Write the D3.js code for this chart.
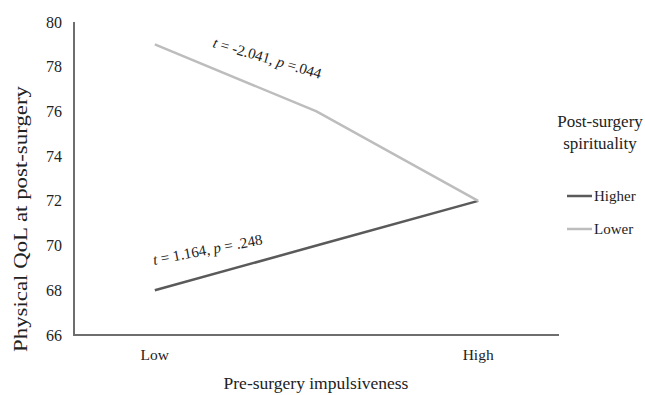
<!DOCTYPE html>
<html>
<head>
<meta charset="UTF-8">
<script src="https://cdn.jsdelivr.net/npm/d3@7/dist/d3.min.js"></script>
<style>
  body { margin: 0; background: #fff; }
  text { font-family: "Liberation Serif", "Times New Roman", serif; fill: #222; }
</style>
</head>
<body>
<svg id="chart" width="645" height="395"></svg>
<script>
// data
const categories = ["Low", "Mid", "High"];
const tickLabels = ["Low", "", "High"];
const higher = [68, 70, 72];
const lower  = [79, 76, 72];
const yTicks = [66, 68, 70, 72, 74, 76, 78, 80];
const seriesNames = ["Higher", "Lower"];
const seriesColors = ["#5a5a5a", "#bdbdbd"];

const svg = d3.select("#chart");

// scales
const x = d3.scaleBand().domain(categories).range([74, 559]);
const y = d3.scaleLinear().domain([66, 80]).range([335, 22]);
const cx = d => x(d) + x.bandwidth() / 2;

// axes (no tick marks, just line + labels)
svg.append("line")
    .attr("x1", 74).attr("x2", 74)
    .attr("y1", y(80)).attr("y2", y(66))
    .attr("stroke", "#6e6e6e").attr("stroke-width", 2);
svg.append("line")
    .attr("x1", 73).attr("x2", 559)
    .attr("y1", y(66)).attr("y2", y(66))
    .attr("stroke", "#6e6e6e").attr("stroke-width", 2);

svg.selectAll(".ytick").data(yTicks).enter().append("text")
    .attr("x", 62).attr("y", d => y(d))
    .attr("dy", "0.35em")
    .attr("text-anchor", "end")
    .attr("font-size", 16)
    .text(d => d);

svg.selectAll(".xtick").data(categories).enter().append("text")
    .attr("x", d => cx(d)).attr("y", 360)
    .attr("text-anchor", "middle")
    .attr("font-size", 15.5)
    .text((d, i) => tickLabels[i]);

// axis titles
svg.append("text")
    .attr("transform", "translate(27," + 219 + ") rotate(-90)")
    .attr("text-anchor", "middle")
    .attr("font-size", 19)
    .attr("textLength", 266)
    .attr("lengthAdjust", "spacingAndGlyphs")
    .text("Physical QoL at post-surgery");

svg.append("text")
    .attr("x", 316).attr("y", 389)
    .attr("text-anchor", "middle")
    .attr("font-size", 17.5)
    .text("Pre-surgery impulsiveness");

// lines
const line = d3.line()
    .x((d, i) => cx(categories[i]))
    .y(d => y(d));

[higher, lower].forEach((vals, k) => {
    svg.append("path")
        .datum(vals)
        .attr("d", line)
        .attr("fill", "none")
        .attr("stroke", seriesColors[k])
        .attr("stroke-width", 2.5);
});

// t / p annotations
function annot(xp, yp, ang, tVal, pVal) {
    const t = svg.append("text")
        .attr("transform", "translate(" + xp + "," + yp + ") rotate(" + ang + ")")
        .attr("font-size", 15);
    t.append("tspan").attr("font-style", "italic").text("t");
    t.append("tspan").text(" = " + tVal + ", ");
    t.append("tspan").attr("font-style", "italic").text("p");
    t.append("tspan").text(pVal);
}
annot(212, 47, 16.5, "-2.041", " =.044");
annot(154, 265, -10.8, "1.164", " = .248");

// legend
svg.append("text")
    .attr("x", 600).attr("y", 127)
    .attr("text-anchor", "middle")
    .attr("font-size", 17)
    .text("Post-surgery");
svg.append("text")
    .attr("x", 600).attr("y", 149)
    .attr("text-anchor", "middle")
    .attr("font-size", 17)
    .text("spirituality");

const legendY = [196, 229];
seriesNames.forEach((name, k) => {
    svg.append("line")
        .attr("x1", 567).attr("x2", 592)
        .attr("y1", legendY[k]).attr("y2", legendY[k])
        .attr("stroke", seriesColors[k])
        .attr("stroke-width", 2.5);
    svg.append("text")
        .attr("x", 594).attr("y", legendY[k])
        .attr("dy", "0.35em")
        .attr("font-size", 15)
        .text(name);
});
</script>
</body>
</html>
